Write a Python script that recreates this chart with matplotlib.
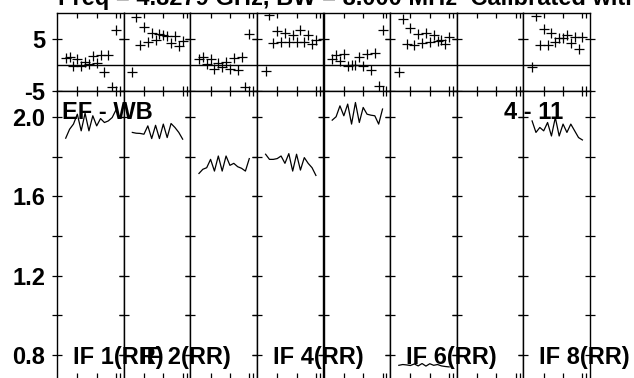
import numpy as np
import matplotlib.pyplot as plt

plt.rcParams['font.family'] = ['Liberation Sans', 'DejaVu Sans']
plt.rcParams['font.weight'] = 'bold'
plt.rcParams['font.size'] = 17

# channels 2..15 of every IF (edge channels flagged)
channels = np.arange(2, 16)

# phase (degrees) per IF
phase_if1 = [1.3, 1.5, -0.2, 1.1, -0.2, 0.6, 0.2, 1.8, 0.3, 2.0, -1.3, 2.0, -4.2, 6.7]
phase_if2 = [-1.4, 9.3, 3.8, 7.4, 4.4, 6.2, 4.8, 6.0, 5.8, 5.6, 4.3, 5.6, 3.6, 4.6]
phase_if3 = [1.1, 1.6, 0.2, 1.1, -0.8, 0.4, -0.4, 0.6, -0.8, 1.3, -1.0, 1.6, -4.2, 6.0]
phase_if4 = [-1.2, 9.6, 4.3, 6.6, 4.4, 6.1, 4.4, 5.8, 4.5, 6.7, 4.5, 5.8, 4.0, 4.9]
phase_if5 = [1.1, 1.9, 0.8, 2.1, -0.2, 0.0, 0.0, 1.6, -0.2, 2.1, -1.0, 2.4, -4.0, 6.7]
phase_if6 = [-1.3, 8.8, 4.0, 7.1, 3.8, 6.0, 4.3, 6.2, 4.5, 5.8, 4.7, 4.9, 4.0, 5.4]
phase_if7 = []
phase_if8 = [-0.3, 9.4, 3.8, 6.9, 3.8, 6.1, 4.5, 5.1, 5.1, 5.8, 4.2, 5.4, 3.0, 5.4]

# amplitude per IF
amp_if1 = [1.894, 1.939, 1.965, 2.015, 1.931, 2.020, 1.931, 2.007, 1.956, 1.993, 1.973, 1.981, 1.998, 2.037]
amp_if2 = [1.923, 1.919, 1.918, 1.914, 1.956, 1.892, 1.959, 1.892, 1.965, 1.897, 1.968, 1.948, 1.923, 1.889]
amp_if3 = [1.716, 1.737, 1.745, 1.787, 1.728, 1.804, 1.728, 1.804, 1.757, 1.767, 1.750, 1.742, 1.728, 1.791]
amp_if4 = [1.813, 1.787, 1.787, 1.791, 1.804, 1.767, 1.816, 1.728, 1.813, 1.733, 1.796, 1.767, 1.745, 1.706]
amp_if5 = [1.985, 2.002, 2.057, 2.007, 2.066, 1.965, 2.074, 1.973, 2.049, 2.015, 2.010, 2.007, 1.965, 2.041]
amp_if6 = [0.748, 0.752, 0.750, 0.747, 0.755, 0.745, 0.757, 0.744, 0.756, 0.748, 0.752, 0.745, 0.742, 0.740]
amp_if7 = []
amp_if8 = [1.981, 1.923, 1.948, 1.931, 1.973, 1.905, 1.998, 1.905, 1.965, 1.923, 1.965, 1.931, 1.897, 1.885]

phases = [phase_if1, phase_if2, phase_if3, phase_if4, phase_if5, phase_if6, phase_if7, phase_if8]
amps = [amp_if1, amp_if2, amp_if3, amp_if4, amp_if5, amp_if6, amp_if7, amp_if8]
if_labels = ['IF 1(RR)', 'IF 2(RR)', '', 'IF 4(RR)', '', 'IF 6(RR)', '', 'IF 8(RR)']

title = 'Freq = 4.8279 GHz, BW = 8.000 MHz  Calibrated with CL # 2'

W, H = 634, 378
fig = plt.figure(figsize=(W / 100, H / 100), dpi=100)

left, right = 57, 590
col_w = (right - left) / 8
top_p, mid, bot = 13, 91, 378

for i in range(8):
    x0 = (left + i * col_w) / W
    axp = fig.add_axes([x0, 1 - mid / H, col_w / W, (mid - top_p) / H])
    axa = fig.add_axes([x0, 1 - bot / H, col_w / W, (bot - mid) / H])

    if len(phases[i]):
        axp.plot(channels, phases[i], '+', color='k', ms=7, mew=0.9)
    axp.axhline(0, color='k', lw=1)
    if len(amps[i]):
        axa.plot(channels, amps[i], '-', color='k', lw=0.9)

    axp.set_ylim(-5, 10)
    axa.set_ylim(0.684, 2.132)
    for ax in (axp, axa):
        ax.set_xlim(-0.25, 16.96)
        ax.set_xticks([5, 10, 15, 16])
        ax.tick_params(axis='x', direction='in', top=True, bottom=True,
                       length=3.3, width=0.9, labelbottom=False)
        ax.tick_params(axis='y', direction='inout', left=True, right=True,
                       length=7.2, width=0.9, pad=5, labelleft=(i == 0))
        for s in ax.spines.values():
            s.set_linewidth(1)
    axa.spines['bottom'].set_visible(False)

    axp.set_yticks([-5, 5])
    axp.set_yticklabels(['-5', '5'])
    axa.set_yticks([0.8, 1.0, 1.2, 1.4, 1.6, 1.8, 2.0])
    axa.set_yticklabels(['0.8', '', '1.2', '', '1.6', '', '2.0'])

    if if_labels[i]:
        fig.text((left + i * col_w + 16) / W, 1 - 364 / H, if_labels[i],
                 ha='left', va='baseline')

fig.text(58 / W, 1 - 5.5 / H, title, ha='left', va='baseline', fontsize=17)
fig.text(62 / W, 1 - 119 / H, 'EF - WB', ha='left', va='baseline')
fig.text(563 / W, 1 - 119 / H, '4 - 11', ha='right', va='baseline')

fig.savefig('out.png', dpi=100)
